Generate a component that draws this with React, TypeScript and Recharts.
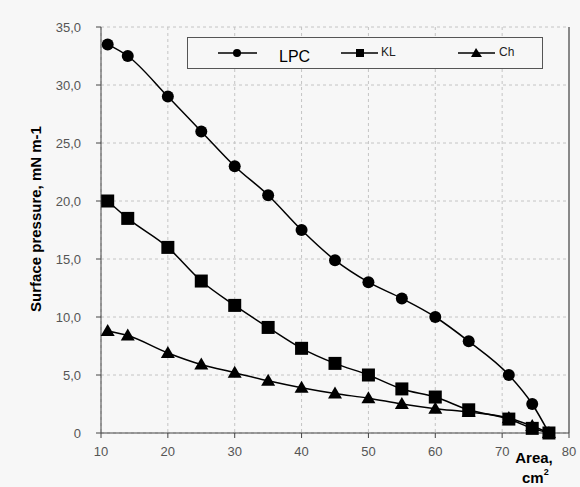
import React from 'react';
import {
  LineChart,
  Line,
  XAxis,
  YAxis,
  CartesianGrid,
  ReferenceLine,
} from 'recharts';

const areas = [11, 14, 20, 25, 30, 35, 40, 45, 50, 55, 60, 65, 71, 74.5, 77];
const lpc = [33.5, 32.5, 29.0, 26.0, 23.0, 20.5, 17.5, 14.9, 13.0, 11.6, 10.0, 7.9, 5.0, 2.5, 0];
const kl = [20.0, 18.5, 16.0, 13.1, 11.0, 9.1, 7.3, 6.0, 5.0, 3.8, 3.1, 2.0, 1.2, 0.4, 0];
const ch = [8.8, 8.4, 6.9, 5.9, 5.2, 4.5, 3.9, 3.4, 3.0, 2.5, 2.1, 1.8, 1.3, 0.6, 0];

const xTicks = [10, 20, 30, 40, 50, 60, 70, 80];
const yTicks = [0, 5, 10, 15, 20, 25, 30, 35];

const data = areas.map((a, i) => ({ area: a, LPC: lpc[i], KL: kl[i], Ch: ch[i] }));

const fmtY = (v: number) => (v === 0 ? '0' : v.toFixed(1).replace('.', ','));

const font = 'Arial, "Liberation Sans", sans-serif';

const CircleDot = (props: any) => {
  const { cx, cy, index } = props;
  if (cx == null || cy == null) return null;
  return <circle key={index} cx={cx} cy={cy} r={6} fill="#000" />;
};

const SquareDot = (props: any) => {
  const { cx, cy, index } = props;
  if (cx == null || cy == null) return null;
  return <rect key={index} x={cx - 6.5} y={cy - 6.5} width={13} height={13} fill="#000" />;
};

const TriDot = (props: any) => {
  const { cx, cy, index } = props;
  if (cx == null || cy == null) return null;
  return (
    <polygon
      key={index}
      points={`${cx},${cy - 7} ${cx - 7},${cy + 5} ${cx + 7},${cy + 5}`}
      fill="#000"
    />
  );
};

const XTick = (props: any) => {
  const { x, payload } = props;
  return (
    <text x={x} y={456} textAnchor="middle" fontSize={13} fontFamily={font} fill="#555">
      {payload.value}
    </text>
  );
};

const YTick = (props: any) => {
  const { y, payload } = props;
  return (
    <text x={81} y={y + 5} textAnchor="end" fontSize={13} fontFamily={font} fill="#555">
      {fmtY(payload.value)}
    </text>
  );
};

// legend drawn on top of the plot, like the original spreadsheet chart
const LegendBox = () => (
  <svg width={357} height={33} style={{ display: 'block' }}>
    <rect x={0.5} y={0.5} width={355} height={31} fill="#f7f7f7" stroke="#555" />
    <line x1={31} y1={16} x2={70} y2={16} stroke="#000" strokeWidth={1.5} />
    <circle cx={50} cy={16} r={4} fill="#000" />
    <text x={92} y={25} fontSize={16} fontFamily={font} fill="#000">LPC</text>
    <line x1={154} y1={16} x2={191} y2={16} stroke="#000" strokeWidth={1.5} />
    <rect x={169} y={12} width={8} height={8} fill="#000" />
    <text x={194} y={19} fontSize={12} fontFamily={font} fill="#222">KL</text>
    <line x1={271} y1={16} x2={308} y2={16} stroke="#000" strokeWidth={1.5} />
    <polygon points="289,11 284,20 295,20" fill="#000" />
    <text x={312} y={19} fontSize={12} fontFamily={font} fill="#222">Ch</text>
  </svg>
);

export default function App() {
  return (
    <div
      style={{
        position: 'absolute',
        left: 0,
        top: 0,
        width: 580,
        height: 487,
        background: '#f7f7f7',
      }}
    >
      <LineChart
        width={580}
        height={487}
        data={data}
        margin={{ top: 27, right: 11, bottom: 24, left: 0 }}
      >
        <CartesianGrid strokeDasharray="3 3" stroke="#c4c4c4" />
        <XAxis
          dataKey="area"
          type="number"
          domain={[10, 80]}
          ticks={xTicks}
          height={30}
          stroke="#444"
          tickSize={5}
          tick={XTick}
          label={{
            content: () => (
              <text fontFamily={font} fontWeight="bold" fill="#000" fontSize={15}>
                <tspan x={534} y={463} textAnchor="middle">Area,</tspan>
                <tspan x={522} y={483}>cm</tspan>
                <tspan dy={-8} fontSize={9}>2</tspan>
              </text>
            ),
          }}
        />
        <YAxis
          type="number"
          domain={[0, 35]}
          ticks={yTicks}
          width={101}
          stroke="#444"
          tickSize={5}
          tick={YTick}
          label={{
            content: () => (
              <text
                x={41}
                y={219}
                transform="rotate(-90 41 219)"
                textAnchor="middle"
                fontFamily={font}
                fontWeight="bold"
                fontSize={15}
                fill="#000"
              >
                Surface pressure, mN m-1
              </text>
            ),
          }}
        />
        <ReferenceLine x={80} stroke="#888" strokeWidth={2} />
        <Line
          type="monotone"
          dataKey="LPC"
          stroke="#000"
          strokeWidth={1.5}
          dot={CircleDot}
          isAnimationActive={false}
        />
        <Line
          type="monotone"
          dataKey="KL"
          stroke="#000"
          strokeWidth={1.5}
          dot={SquareDot}
          isAnimationActive={false}
        />
        <Line
          type="monotone"
          dataKey="Ch"
          stroke="#000"
          strokeWidth={1.5}
          dot={TriDot}
          isAnimationActive={false}
        />
      </LineChart>
      <div style={{ position: 'absolute', left: 187, top: 37 }}>
        <LegendBox />
      </div>
    </div>
  );
}
